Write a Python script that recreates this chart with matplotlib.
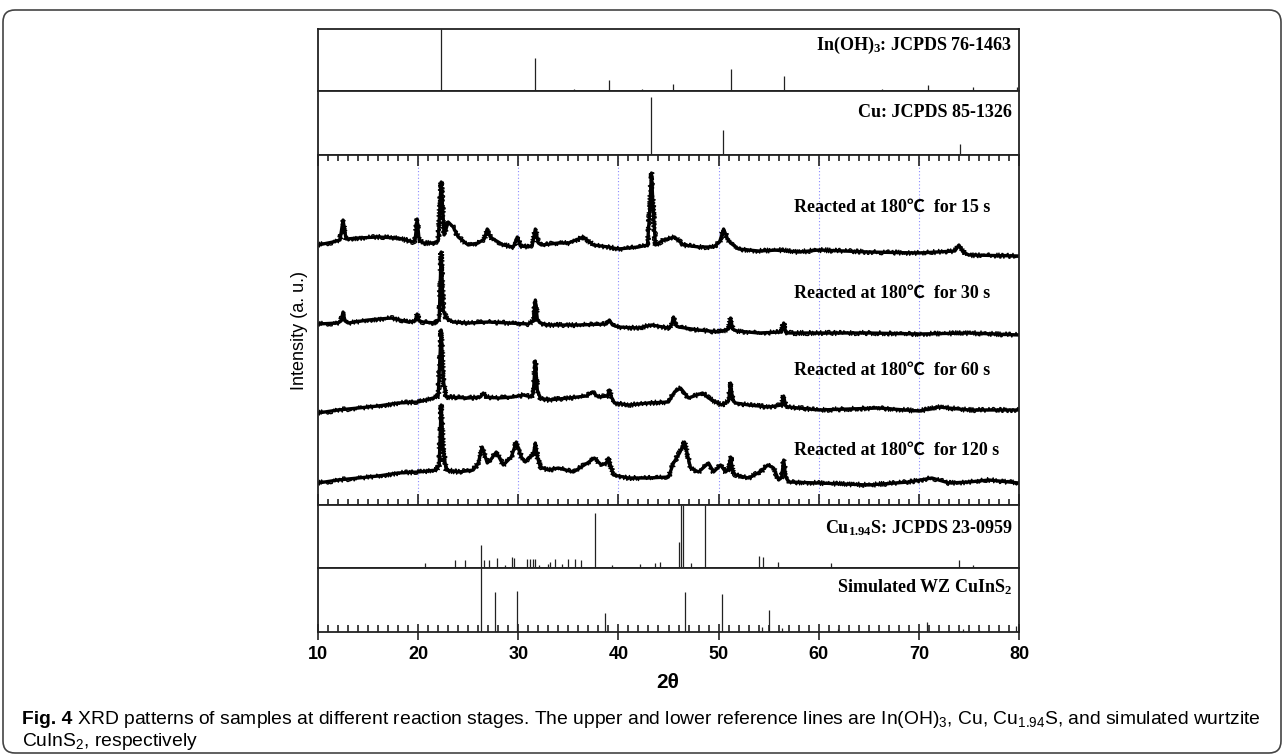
import numpy as np
import matplotlib
matplotlib.use("Agg")
import matplotlib.pyplot as plt
from matplotlib.patches import FancyBboxPatch
from matplotlib.ticker import MultipleLocator

plt.rcParams["mathtext.default"] = "regular"

# reference line patterns (2theta, relative height 0-1)
inoh3_pos = [22.3, 31.7, 35.6, 39.1, 42.4, 45.4, 51.2, 56.5, 66.3, 70.9, 75.4, 79.8]
inoh3_h = [1.0, 0.53, 0.04, 0.18, 0.03, 0.12, 0.35, 0.24, 0.04, 0.10, 0.07, 0.07]

cu_pos = [43.3, 50.4, 74.1]
cu_h = [0.91, 0.39, 0.17]

cu194s_pos = [20.65, 23.7, 24.7, 26.3, 26.55, 27.1, 27.9, 28.7, 29.33, 29.56, 30.9, 31.17,
              31.5, 31.7, 32.1, 33.0, 33.2, 33.7, 34.4, 35.0, 35.7, 36.3, 37.67, 39.4,
              42.2, 43.7, 44.2, 46.06, 46.2, 46.4, 47.2, 48.6, 54.08, 54.4, 55.9, 61.2,
              74.0, 75.4]
cu194s_h = [0.08, 0.13, 0.12, 0.36, 0.13, 0.13, 0.16, 0.05, 0.17, 0.16, 0.15, 0.15,
            0.15, 0.15, 0.05, 0.06, 0.10, 0.15, 0.07, 0.14, 0.15, 0.12, 0.88, 0.04,
            0.06, 0.08, 0.10, 0.42, 1.0, 1.0, 0.08, 1.0, 0.19, 0.17, 0.10, 0.08,
            0.12, 0.05]

wz_pos = [26.3, 27.7, 29.85, 38.7, 46.6, 50.3, 54.3, 55.0, 56.3, 61.95, 70.8, 74.4, 76.0, 79.7]
wz_h = [1.0, 0.62, 0.645, 0.30, 0.62, 0.59, 0.08, 0.35, 0.06, 0.04, 0.15, 0.04, 0.03, 0.10]

xrd_15s = [(10, 260), (11.5, 263), (12.2, 265), (12.5, 285), (12.8, 266), (14, 267), (16, 268),
           (18, 267), (19.5, 263), (19.7, 265), (19.9, 286), (20.1, 265), (20.5, 262), (21.5, 262),
           (22.0, 264), (22.3, 323), (22.6, 270), (23.0, 283), (23.5, 278), (24, 268), (25, 260),
           (26, 262), (26.6, 266), (26.9, 276), (27.2, 268), (27.5, 266), (28.5, 260), (29.5, 258),
           (29.9, 268), (30.2, 259), (31, 258), (31.4, 260), (31.7, 276), (32.0, 262), (32.3, 260),
           (34, 262), (35, 262), (36.5, 268), (37.5, 260), (39, 258), (40, 256), (41, 257),
           (42, 258), (42.9, 260), (43.1, 290), (43.3, 332), (43.5, 290), (43.7, 260), (44.5, 265),
           (45.6, 268), (46.5, 260), (48, 258), (49.5, 258), (50.1, 263), (50.5, 276), (50.9, 266),
           (51.2, 262), (52, 256), (54, 254), (56, 255), (58, 253), (60, 255), (65, 253), (70, 252),
           (73.6, 254), (74.0, 260), (74.4, 253), (75, 250), (80, 249)]
xrd_30s = [(10, 181), (12, 182), (12.3, 184), (12.5, 193), (12.7, 184), (13, 182), (15, 185),
           (17.3, 187), (19, 183), (19.7, 184), (19.9, 191), (20.1, 184), (20.5, 183), (21.8, 182),
           (22.1, 186), (22.3, 253), (22.5, 195), (22.8, 187), (23.5, 183), (25, 182), (27, 183),
           (29, 182), (31, 181), (31.5, 184), (31.7, 205), (31.9, 186), (32.2, 182), (33, 180),
           (36, 180), (38.8, 181), (39.1, 185), (39.4, 180), (40, 178), (42, 177), (43.3, 180),
           (45, 177), (45.3, 180), (45.5, 188), (45.7, 180), (46, 178), (48, 175), (50, 173),
           (51.0, 176), (51.2, 187), (51.4, 176), (51.8, 174), (54, 172), (56.3, 173), (56.5, 182),
           (56.7, 173), (57, 172), (60, 172), (65, 172), (70, 171), (75, 172), (80, 170)]
xrd_60s = [(10, 92), (12, 95), (14, 97), (16, 99), (18, 102), (20, 103), (21.5, 107), (22.0, 109),
           (22.3, 175), (22.5, 125), (22.8, 108), (25, 107), (26.2, 108), (26.5, 112), (26.8, 108),
           (28, 107), (29.5, 108), (30.5, 110), (31.3, 108), (31.5, 112), (31.7, 144), (31.9, 115),
           (32.2, 107), (33, 105), (35, 107), (36.8, 109), (37.4, 113), (38, 108), (38.9, 109),
           (39.1, 115), (39.3, 108), (39.6, 102), (41, 100), (43, 102), (45, 103), (45.6, 113),
           (46.2, 117), (47, 107), (48.4, 112), (49, 107), (50.3, 100), (51.0, 104), (51.2, 122),
           (51.4, 105), (51.7, 102), (53, 100), (55, 98), (56.3, 100), (56.5, 109), (56.7, 99),
           (57, 98), (58, 97), (60, 95), (63, 96), (66, 97), (70, 94), (72, 98), (75, 95), (80, 95)]
xrd_120s = [(10, 22), (12, 25), (14, 27), (16, 29), (18, 32), (20, 33), (21.8, 35), (22.1, 40),
            (22.3, 100), (22.5, 55), (22.8, 35), (24, 33), (25.5, 35), (26.0, 42), (26.4, 58),
            (26.9, 42), (27.3, 46), (27.8, 53), (28.5, 40), (29.3, 48), (29.8, 63), (30.3, 48),
            (30.7, 43), (31.0, 47), (31.5, 50), (31.7, 62), (31.9, 48), (32.2, 38), (33, 35),
            (34, 37), (35.5, 33), (36.9, 42), (37.6, 47), (38.3, 40), (38.8, 42), (39.0, 47),
            (39.2, 40), (39.5, 30), (41, 27), (43, 27), (45, 28), (45.5, 42), (46.1, 52),
            (46.6, 63), (47.2, 37), (48, 33), (49.0, 42), (49.5, 33), (50.2, 40), (50.7, 33),
            (51.0, 36), (51.2, 48), (51.4, 34), (51.7, 30), (53, 27), (54.3, 34), (54.9, 40),
            (55.5, 37), (56.0, 25), (56.3, 28), (56.5, 45), (56.7, 28), (57, 23), (60, 22),
            (65, 20), (69, 23), (71.3, 27), (73, 22), (75, 23), (77, 25), (80, 22)]

patterns = [xrd_15s, xrd_30s, xrd_60s, xrd_120s]
pattern_labels = ["15 s", "30 s", "60 s", "120 s"]
label_y = [298, 212, 135, 55]

ticks = [10, 20, 30, 40, 50, 60, 70, 80]

W, H = 1284, 756
fig = plt.figure(figsize=(W / 100, H / 100), dpi=100)

L, R = 318, 1019
serif = ["Liberation Serif", "Noto Sans CJK SC", "DejaVu Serif"]
sans = ["Liberation Sans", "DejaVu Sans"]


def add_panel(top, bottom):
    ax = fig.add_axes([L / W, 1 - bottom / H, (R - L) / W, (bottom - top) / H])
    ax.set_xlim(10, 80)
    for sp in ax.spines.values():
        sp.set_linewidth(1.3)
        sp.set_color("#222222")
    ax.set_yticks([])
    ax.tick_params(axis="x", which="both", bottom=False, top=False, labelbottom=False)
    return ax


def ref_panel(top, bottom, pos, h, label, ly):
    ax = add_panel(top, bottom)
    ax.set_ylim(0, 1)
    ax.vlines(pos, 0, h, color="#222222", lw=0.9)
    ax.text(0.99, ly, label, transform=ax.transAxes, ha="right", va="center",
            family=serif, fontweight="bold", fontsize=13)
    return ax


ref_panel(29, 91, inoh3_pos, inoh3_h, "In(OH)$_3$: JCPDS 76-1463", 0.74)
ref_panel(91, 155, cu_pos, cu_h, "Cu: JCPDS 85-1326", 0.67)

ax = add_panel(155, 505)
ax.set_ylim(0, 350)
for x in ticks[1:-1]:
    ax.axvline(x, color="#8a8aff", lw=0.8, ls=(0, (1, 2)), zorder=0)
for pat, lab, ly in zip(patterns, pattern_labels, label_y):
    arr = np.array(pat)
    ax.plot(arr[:, 0], arr[:, 1], color="black", lw=2.4, solid_joinstyle="round")
    # jittered overlay gives the detector-noise look of the scanned pattern
    ln, = ax.plot(arr[:, 0], arr[:, 1], color="black", lw=1.0)
    ln.set_sketch_params(scale=2.5, length=0.5, randomness=1.5)
    ax.text(57.5, ly, "Reacted at 180\u2103  for " + lab, ha="left", va="center",
            family=serif, fontweight="bold", fontsize=13)
ax.xaxis.set_major_locator(MultipleLocator(10))
ax.xaxis.set_minor_locator(MultipleLocator(1))
ax.tick_params(axis="x", which="both", bottom=True, top=True, direction="in", color="#222222")
ax.tick_params(axis="x", which="major", length=8, width=1.2)
ax.tick_params(axis="x", which="minor", length=4, width=1.2)

ref_panel(505, 568, cu194s_pos, cu194s_h, "Cu$_{1.94}$S: JCPDS 23-0959", 0.63)
axb = ref_panel(568, 632, wz_pos, wz_h, "Simulated WZ CuInS$_2$", 0.70)
axb.set_xticks(ticks)
axb.xaxis.set_minor_locator(MultipleLocator(1))
axb.tick_params(axis="x", which="both", bottom=True, labelbottom=True, color="#222222")
axb.tick_params(axis="x", which="major", direction="inout", length=12, width=1.2, pad=4)
axb.tick_params(axis="x", which="minor", direction="in", length=5, width=1.2)
for t in axb.get_xticklabels():
    t.set_family(sans)
    t.set_fontweight("bold")
    t.set_fontsize(13)

fig.text(300 / W, 1 - 330 / H, "Intensity (a. u.)", rotation=90, ha="center", va="center",
         family=sans, fontsize=13)
fig.text(668 / W, 1 - 683 / H, "2\u03b8", ha="center", va="center",
         family=sans, fontweight="bold", fontsize=15)

# caption: fit the first line to the reference width
cap_size = 12.0
t1 = fig.text(22 / W, 1 - 719 / H, "Fig. 4", ha="left", va="center",
              family=sans, fontweight="bold", fontsize=cap_size)
t2 = fig.text(0.5, 1 - 719 / H, " XRD patterns of samples at different reaction stages. The upper "
              "and lower reference lines are In(OH)$_3$, Cu, Cu$_{1.94}$S, and simulated wurtzite",
              family=sans, fontsize=cap_size, ha="left", va="center")
t3 = fig.text(22 / W, 1 - 741 / H, "CuInS$_2$, respectively", ha="left", va="center",
              family=sans, fontsize=cap_size)
fig.canvas.draw()
r = fig.canvas.get_renderer()
total = t1.get_window_extent(r).width + t2.get_window_extent(r).width
scale = (1262 - 22) / total
for t in (t1, t2, t3):
    t.set_fontsize(cap_size * scale)
fig.canvas.draw()
t2.set_x(t1.get_window_extent(r).x1 / W)

frame = FancyBboxPatch((0.03, 0.03), 12.78, 7.43, boxstyle="round,pad=0,rounding_size=0.12",
                       transform=fig.dpi_scale_trans, fill=False, lw=1.2, ec="#444444")
fig.patches.append(frame)

fig.savefig("out.png", dpi=100)
